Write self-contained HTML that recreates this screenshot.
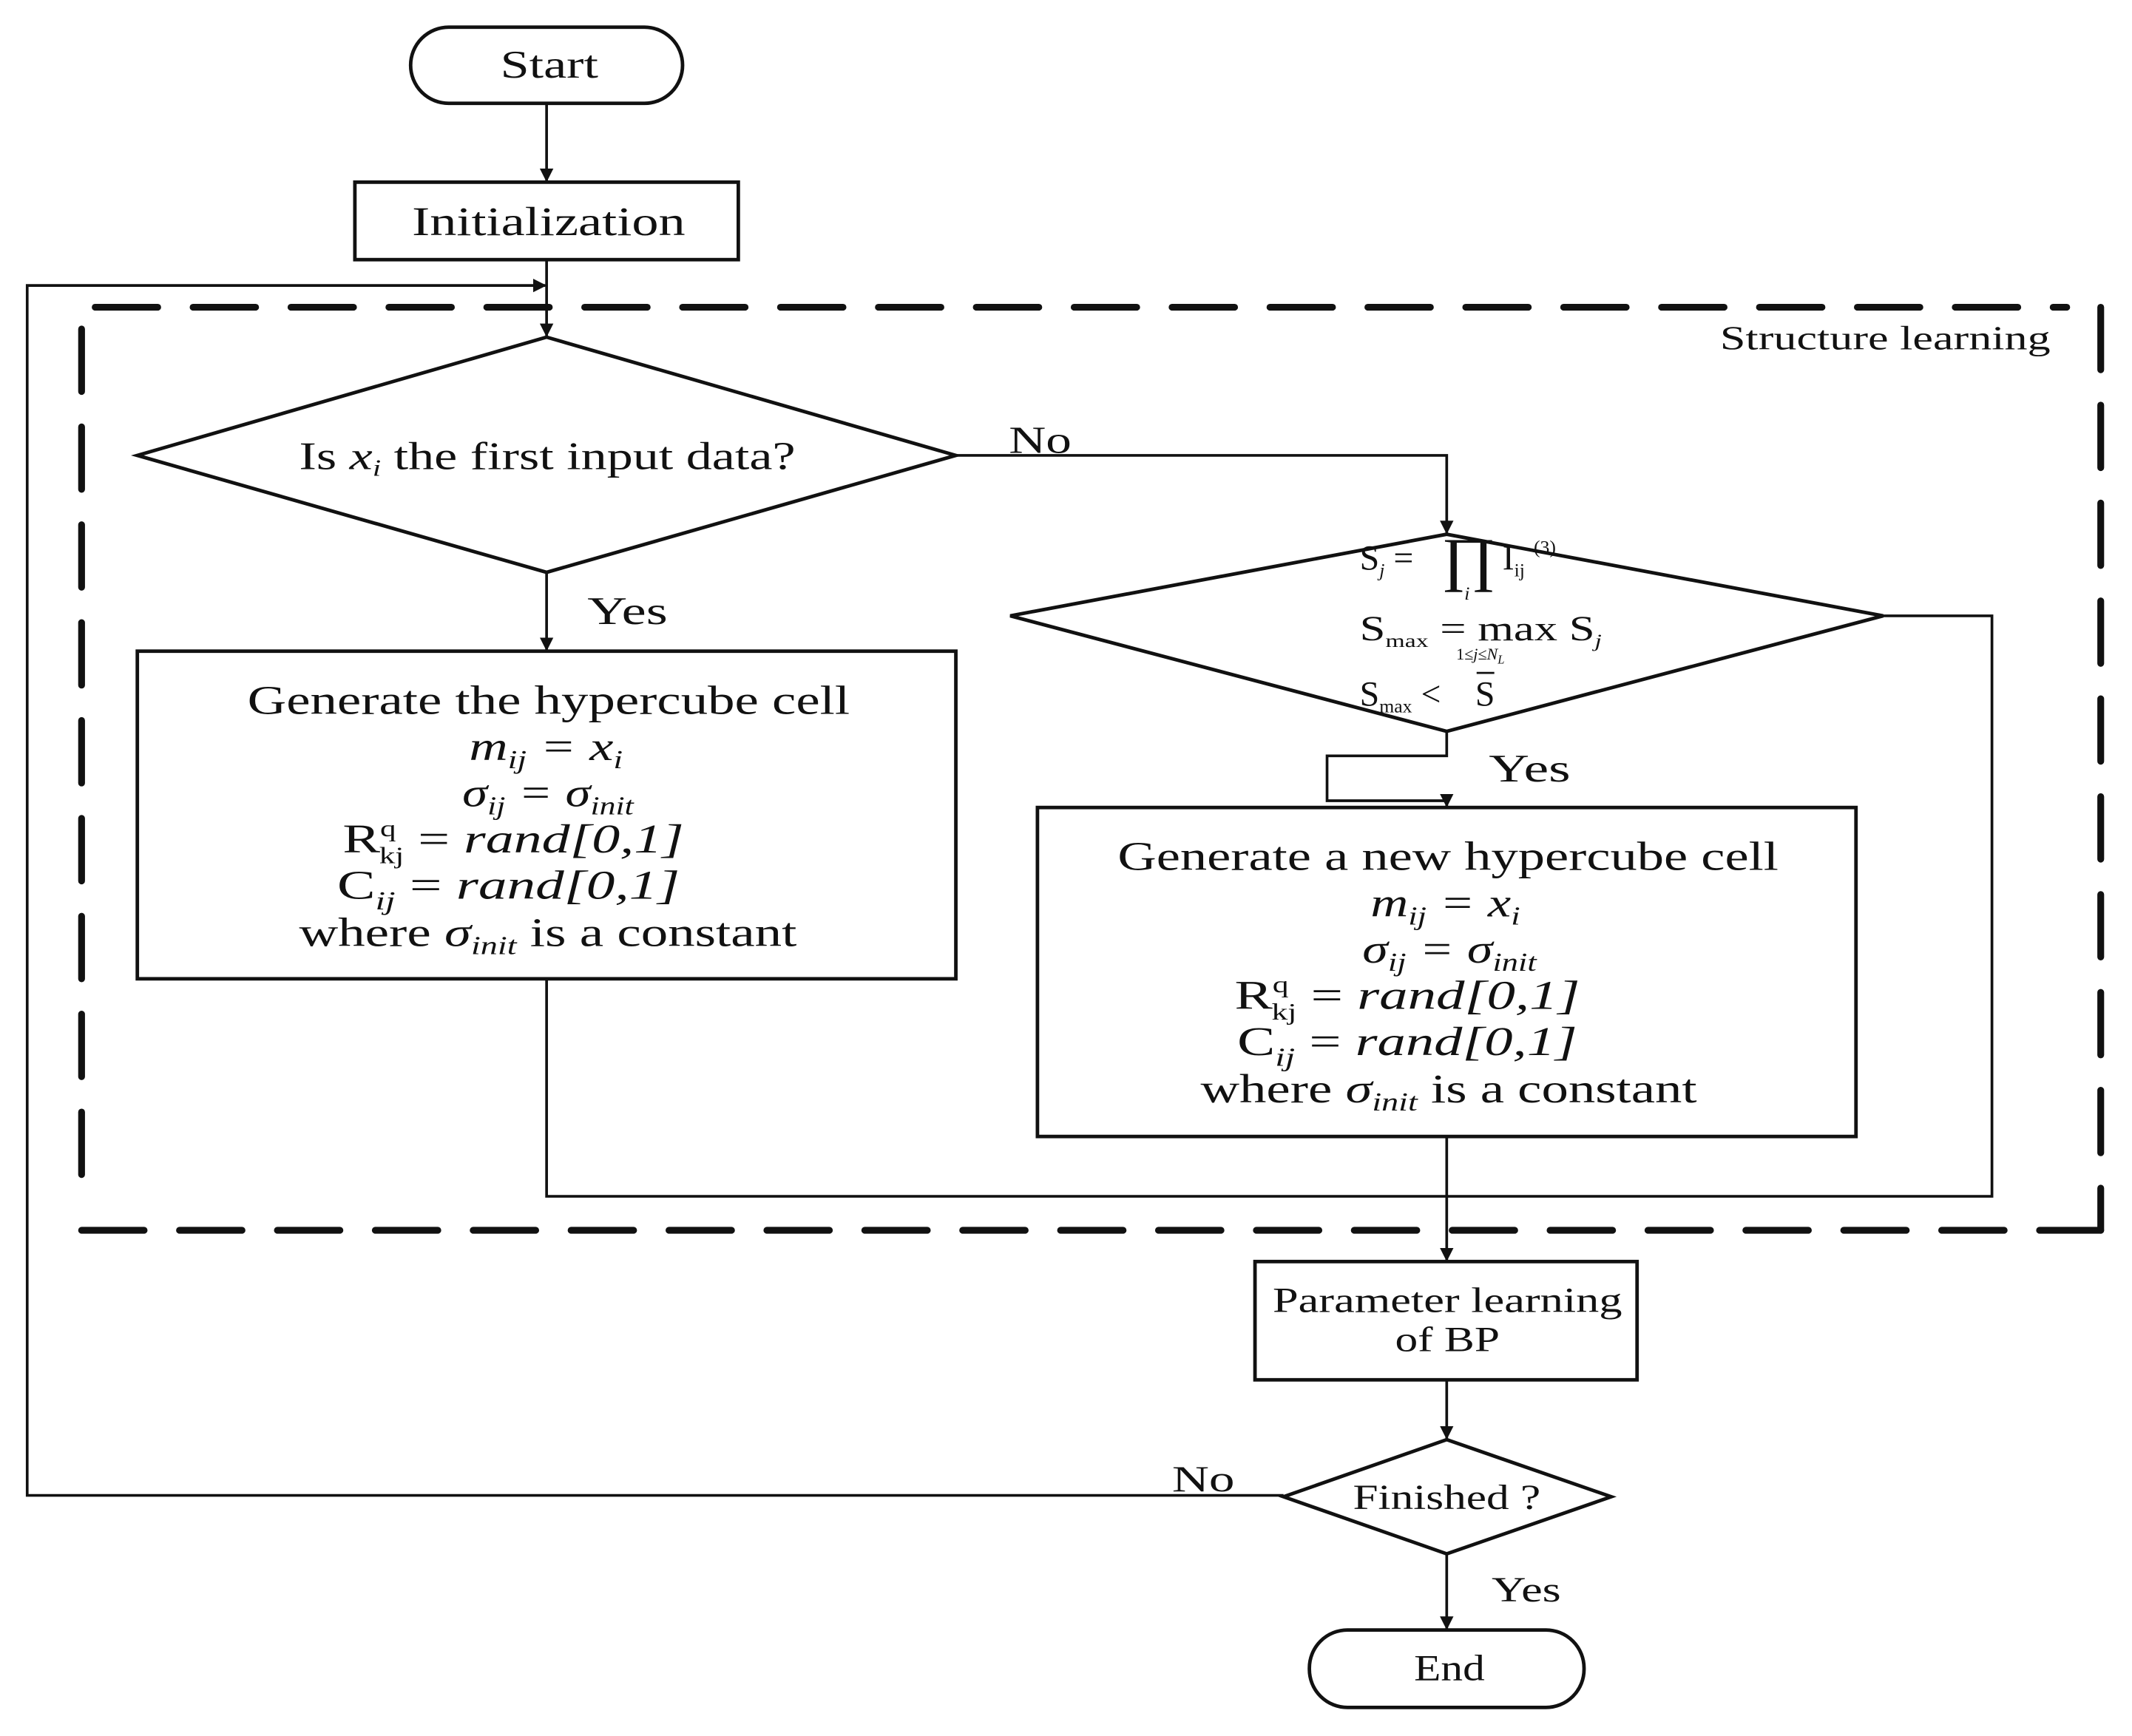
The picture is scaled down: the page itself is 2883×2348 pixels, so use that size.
<!DOCTYPE html>
<html><head><meta charset="utf-8"><style>
html,body{margin:0;padding:0;background:#fff;}
svg{display:block;}
text{font-family:"Liberation Serif",serif;fill:#111;}
</style></head><body>
<svg width="2883" height="2348" viewBox="0 0 1568 1277" preserveAspectRatio="none" xmlns="http://www.w3.org/2000/svg">
<defs>
<marker id="a" markerWidth="10" markerHeight="10" refX="9" refY="5" orient="auto" markerUnits="userSpaceOnUse">
<path d="M0,0 L10,5 L0,10 z" fill="#111"/></marker>
</defs>
<g fill="none" stroke="#111" stroke-width="2.6">
<rect x="302" y="20" width="200" height="56" rx="28"/>
<rect x="261" y="134" width="282" height="57"/>
<polygon points="402,248 703,335 402,421 101,335"/>
<polygon points="1064,393 1385,453 1064,538 743,453"/>
<rect x="101" y="479" width="602" height="241"/>
<rect x="763" y="594" width="602" height="242"/>
<rect x="923" y="928" width="281" height="87"/>
<polygon points="1064,1059 1185,1101 1064,1143 944,1101"/>
<rect x="963" y="1199" width="202" height="57" rx="28"/>
</g>
<g fill="none" stroke="#111" stroke-width="5" stroke-dasharray="46,26" stroke-linecap="round">
<line x1="70" y1="226" x2="1520" y2="226"/>
<line x1="60" y1="242" x2="60" y2="880"/>
<line x1="60" y1="905" x2="1545" y2="905"/>
<line x1="1545" y1="226" x2="1545" y2="905"/>
</g>
<g fill="none" stroke="#111" stroke-width="2">
<line x1="402" y1="76" x2="402" y2="133" marker-end="url(#a)"/>
<line x1="402" y1="191" x2="402" y2="247" marker-end="url(#a)"/>
<polyline points="944,1100 20,1100 20,210 401,210" marker-end="url(#a)"/>
<polyline points="703,335 1064,335 1064,392" marker-end="url(#a)"/>
<line x1="402" y1="421" x2="402" y2="478" marker-end="url(#a)"/>
<polyline points="1064,538 1064,556 976,556 976,589 1064,589 1064,593" marker-end="url(#a)"/>
<polyline points="1385,453 1465,453 1465,880 402,880 402,720"/>
<line x1="1064" y1="836" x2="1064" y2="927" marker-end="url(#a)"/>
<line x1="1064" y1="1015" x2="1064" y2="1058" marker-end="url(#a)"/>
<line x1="1064" y1="1143" x2="1064" y2="1198" marker-end="url(#a)"/>
</g>
<g lengthAdjust="spacingAndGlyphs">
<text x="368" y="57" font-size="29" textLength="72" lengthAdjust="spacingAndGlyphs">Start</text>
<text x="303" y="173" font-size="30" textLength="201" lengthAdjust="spacingAndGlyphs">Initialization</text>
<text x="1265" y="257" font-size="25" textLength="243" lengthAdjust="spacingAndGlyphs">Structure learning</text>
<text x="220" y="345" font-size="29" textLength="365" lengthAdjust="spacingAndGlyphs">Is <tspan font-style="italic">x<tspan font-size="17" dy="5">i</tspan></tspan><tspan dy="-5"> the first input data?</tspan></text>
<text x="742" y="333" font-size="28" textLength="46" lengthAdjust="spacingAndGlyphs">No</text>
<text x="432" y="459" font-size="29" textLength="59" lengthAdjust="spacingAndGlyphs">Yes</text>
<text x="1095" y="575" font-size="29" textLength="60" lengthAdjust="spacingAndGlyphs">Yes</text>
<text x="862" y="1097" font-size="27" textLength="46" lengthAdjust="spacingAndGlyphs">No</text>
<text x="1097" y="1178" font-size="26" textLength="51" lengthAdjust="spacingAndGlyphs">Yes</text>
<text x="936" y="965" font-size="26" textLength="257" lengthAdjust="spacingAndGlyphs">Parameter learning</text>
<text x="1026" y="994" font-size="26" textLength="77" lengthAdjust="spacingAndGlyphs">of BP</text>
<text x="995" y="1110" font-size="26" textLength="138" lengthAdjust="spacingAndGlyphs">Finished ?</text>
<text x="1040" y="1236" font-size="27" textLength="52" lengthAdjust="spacingAndGlyphs">End</text>
</g>
<g font-size="30">
<text x="182" y="525" textLength="443" lengthAdjust="spacingAndGlyphs">Generate the hypercube cell</text>
<text x="345" y="559" font-style="italic" textLength="113" lengthAdjust="spacingAndGlyphs">m<tspan font-size="19" dy="6">ij</tspan><tspan dy="-6"> = x</tspan><tspan font-size="19" dy="6">i</tspan></text>
<text x="340" y="593" font-style="italic" textLength="126" lengthAdjust="spacingAndGlyphs">σ<tspan font-size="19" dy="6">ij</tspan><tspan dy="-6"> = σ</tspan><tspan font-size="19" dy="6">init</tspan></text>
<text x="252" y="627" textLength="251" lengthAdjust="spacingAndGlyphs">R<tspan font-size="17" dy="-12">q</tspan><tspan font-size="17" dx="-9" dy="20">kj</tspan><tspan dy="-8"> = </tspan><tspan font-style="italic">rand[0,1]</tspan></text>
<text x="248" y="661" textLength="252" lengthAdjust="spacingAndGlyphs">C<tspan font-size="19" dy="8" font-style="italic">ij</tspan><tspan dy="-8"> = </tspan><tspan font-style="italic">rand[0,1]</tspan></text>
<text x="220" y="696" textLength="366" lengthAdjust="spacingAndGlyphs">where <tspan font-style="italic">σ<tspan font-size="19" dy="6">init</tspan></tspan><tspan dy="-6"> is a constant</tspan></text>

<text x="822" y="640" textLength="486" lengthAdjust="spacingAndGlyphs">Generate a new hypercube cell</text>
<text x="1008" y="674" font-style="italic" textLength="110" lengthAdjust="spacingAndGlyphs">m<tspan font-size="19" dy="6">ij</tspan><tspan dy="-6"> = x</tspan><tspan font-size="19" dy="6">i</tspan></text>
<text x="1002" y="708" font-style="italic" textLength="128" lengthAdjust="spacingAndGlyphs">σ<tspan font-size="19" dy="6">ij</tspan><tspan dy="-6"> = σ</tspan><tspan font-size="19" dy="6">init</tspan></text>
<text x="908" y="742" textLength="254" lengthAdjust="spacingAndGlyphs">R<tspan font-size="17" dy="-12">q</tspan><tspan font-size="17" dx="-9" dy="20">kj</tspan><tspan dy="-8"> = </tspan><tspan font-style="italic">rand[0,1]</tspan></text>
<text x="910" y="776" textLength="250" lengthAdjust="spacingAndGlyphs">C<tspan font-size="19" dy="8" font-style="italic">ij</tspan><tspan dy="-8"> = </tspan><tspan font-style="italic">rand[0,1]</tspan></text>
<text x="883" y="811" textLength="365" lengthAdjust="spacingAndGlyphs">where <tspan font-style="italic">σ<tspan font-size="19" dy="6">init</tspan></tspan><tspan dy="-6"> is a constant</tspan></text>
</g>
<g font-size="26">
<text x="1000" y="419">S<tspan font-size="14" font-style="italic" dy="5">j</tspan><tspan dy="-5"> =</tspan></text>
<text x="1060" y="426" font-size="44" textLength="40" lengthAdjust="spacingAndGlyphs">∏</text>
<text x="1105" y="419">I<tspan font-size="14" dy="5">ij</tspan></text>
<text x="1128" y="407" font-size="14">(3)</text>
<text x="1077" y="441" font-size="14" font-style="italic">i</text>
<text x="1000" y="471" textLength="178" lengthAdjust="spacingAndGlyphs">S<tspan font-size="14" dy="5">max</tspan><tspan dy="-5"> = max S</tspan><tspan font-size="14" font-style="italic" dy="5">j</tspan></text>
<text x="1071" y="485" font-size="12">1≤<tspan font-style="italic">j</tspan>≤<tspan font-style="italic">N<tspan font-size="9" dy="3">L</tspan></tspan></text>
<text x="1000" y="519">S<tspan font-size="14" dy="5">max</tspan><tspan dy="-5"> &lt;</tspan></text>
<text x="1085" y="519">S</text>
<line x1="1086" y1="495" x2="1099" y2="495" stroke="#111" stroke-width="1.5"/>
</g>
</svg>
</body></html>
